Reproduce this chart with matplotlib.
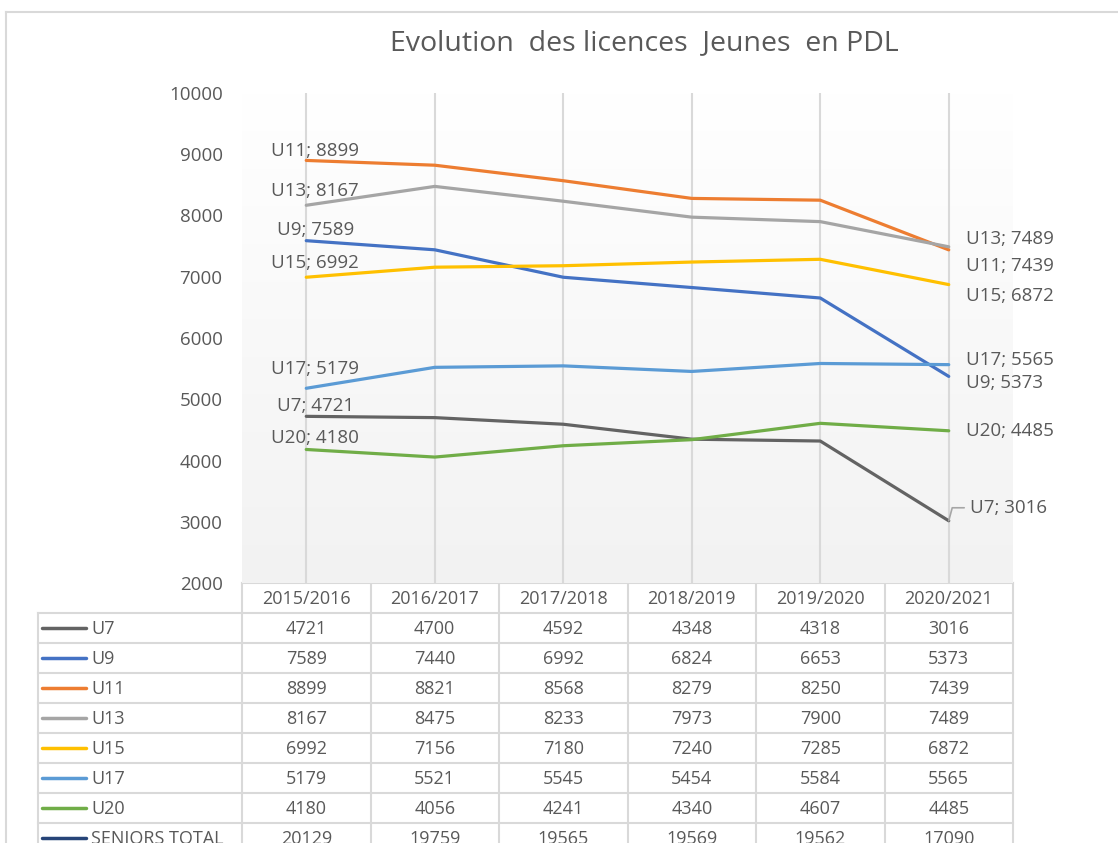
import numpy as np
import matplotlib
matplotlib.use("Agg")
import matplotlib.pyplot as plt

plt.rcParams['font.family'] = ['Open Sans', 'DejaVu Sans']

# Données
saisons = ["2015/2016", "2016/2017", "2017/2018", "2018/2019", "2019/2020", "2020/2021"]
categories = ["U7", "U9", "U11", "U13", "U15", "U17", "U20", "SENIORS TOTAL"]
u7 = [4721, 4700, 4592, 4348, 4318, 3016]
u9 = [7589, 7440, 6992, 6824, 6653, 5373]
u11 = [8899, 8821, 8568, 8279, 8250, 7439]
u13 = [8167, 8475, 8233, 7973, 7900, 7489]
u15 = [6992, 7156, 7180, 7240, 7285, 6872]
u17 = [5179, 5521, 5545, 5454, 5584, 5565]
u20 = [4180, 4056, 4241, 4340, 4607, 4485]
seniors = [20129, 19759, 19565, 19569, 19562, 17090]
series = [u7, u9, u11, u13, u15, u17, u20, seniors]

couleurs = ["#636363", "#4472C4", "#ED7D31", "#A5A5A5", "#FFC000", "#5B9BD5", "#70AD47", "#264478"]
texte = "#595959"
grille = "#D9D9D9"

# décalages des étiquettes (pixels) : premier point / dernier point
offs_debut = {"U7": 10, "U9": 11, "U11": 9, "U13": 14, "U15": 14, "U17": 19, "U20": 11}
offs_fin = {"U7": 13, "U9": -7, "U11": -16, "U13": 8, "U15": -11, "U17": 5, "U20": 0}

W, H = 1118, 843
fig = plt.figure(figsize=(W / 100, H / 100), dpi=100)

# zone de tracé
x0, x1, ytop, ybot = 242, 1013, 93, 583
ax = fig.add_axes([x0 / W, 1 - ybot / H, (x1 - x0) / W, (ybot - ytop) / H])
ax.set_xlim(-0.5, len(saisons) - 0.5)
ax.set_ylim(2000, 10000)

# fond en dégradé (blanc en haut, gris clair en bas)
grad = np.linspace(0, 1, 256).reshape(-1, 1)
ax.imshow(grad, extent=[-0.5, len(saisons) - 0.5, 2000, 10000], aspect='auto',
          cmap=matplotlib.colors.LinearSegmentedColormap.from_list("g", ["#F2F2F2", "#FFFFFF"]),
          zorder=0, origin='lower')

for nom, vals, c in zip(categories, series, couleurs):
    ax.plot(range(len(saisons)), vals, color=c, lw=2.3, zorder=3, solid_capstyle='round')

# étiquettes de données
for nom, vals in zip(categories[:-1], series[:-1]):
    ax.annotate(f"{nom}; {vals[0]}", xy=(0, vals[0]), xytext=(9, offs_debut[nom]),
                textcoords='offset pixels', ha='center', va='center', fontsize=13.5, color=texte, zorder=4)
    if nom == "U7":
        ax.annotate(f"{nom}; {vals[-1]}", xy=(5, vals[-1]), xytext=(21, offs_fin[nom]),
                    textcoords='offset pixels', ha='left', va='center', fontsize=13.5, color=texte, zorder=4,
                    annotation_clip=False,
                    arrowprops=dict(arrowstyle='-', color="#A6A6A6", lw=1.2, relpos=(0, 0.5),
                                    shrinkA=2, shrinkB=0,
                                    connectionstyle="angle,angleA=0,angleB=75,rad=0"))
    else:
        ax.annotate(f"{nom}; {vals[-1]}", xy=(5, vals[-1]), xytext=(17, offs_fin[nom]),
                    textcoords='offset pixels', ha='left', va='center', fontsize=13.5, color=texte,
                    zorder=4, annotation_clip=False)

ax.set_xticks(range(len(saisons)))
ax.set_xticklabels([])
ax.set_yticks(range(2000, 10001, 1000))
ax.tick_params(axis='both', length=0, labelsize=13.5, labelcolor=texte)
ax.tick_params(axis='y', pad=14)
ax.grid(axis='x', color=grille, lw=1.5, zorder=1)
ax.set_axisbelow(True)
for s in ax.spines.values():
    s.set_visible(False)

# calque en pixels pour le tableau et le cadre
ov = fig.add_axes([0, 0, 1, 1], zorder=-1)
ov.set_xlim(0, W)
ov.set_ylim(H, 0)
ov.axis('off')

# cadre du graphique
ov.plot([6, 6], [12, H], color=grille, lw=1.5)
ov.plot([6, W], [12, 12], color=grille, lw=1.5)

fig.text(644 / W, 1 - 43 / H, "Evolution  des licences  Jeunes  en PDL", ha='center', va='center',
         fontsize=20.5, color=texte)

# tableau de données
cw = (x1 - x0) / len(saisons)
rh = 30
ytab = ybot
xlab = 38
nrows = len(categories)
ybas = ytab + rh * (nrows + 1)
ov.plot([x0, x1], [ytab, ytab], color=grille, lw=1.5)
for r in range(nrows + 1):
    y = ytab + rh * (r + 1)
    ov.plot([xlab, x1], [y, y], color=grille, lw=1.5)
ov.plot([xlab, xlab], [ytab + rh, ybas], color=grille, lw=1.5)
for i in range(len(saisons) + 1):
    xc = x0 + i * cw
    ov.plot([xc, xc], [ytab, ybas], color=grille, lw=1.5)

for i, s in enumerate(saisons):
    ov.text(x0 + (i + 0.5) * cw, ytab + rh / 2 + 1, s, ha='center', va='center', fontsize=13, color=texte)

for r, (nom, vals, c) in enumerate(zip(categories, series, couleurs)):
    yc = ytab + rh * (r + 1.5)
    ov.plot([42, 86], [yc, yc], color=c, lw=2.5, solid_capstyle='round')
    ov.text(91, yc + 1, nom, ha='left', va='center', fontsize=13, color=texte)
    for i, v in enumerate(vals):
        ov.text(x0 + (i + 0.5) * cw, yc + 1, str(v), ha='center', va='center', fontsize=13, color=texte)

fig.savefig("out.png", dpi=100)
